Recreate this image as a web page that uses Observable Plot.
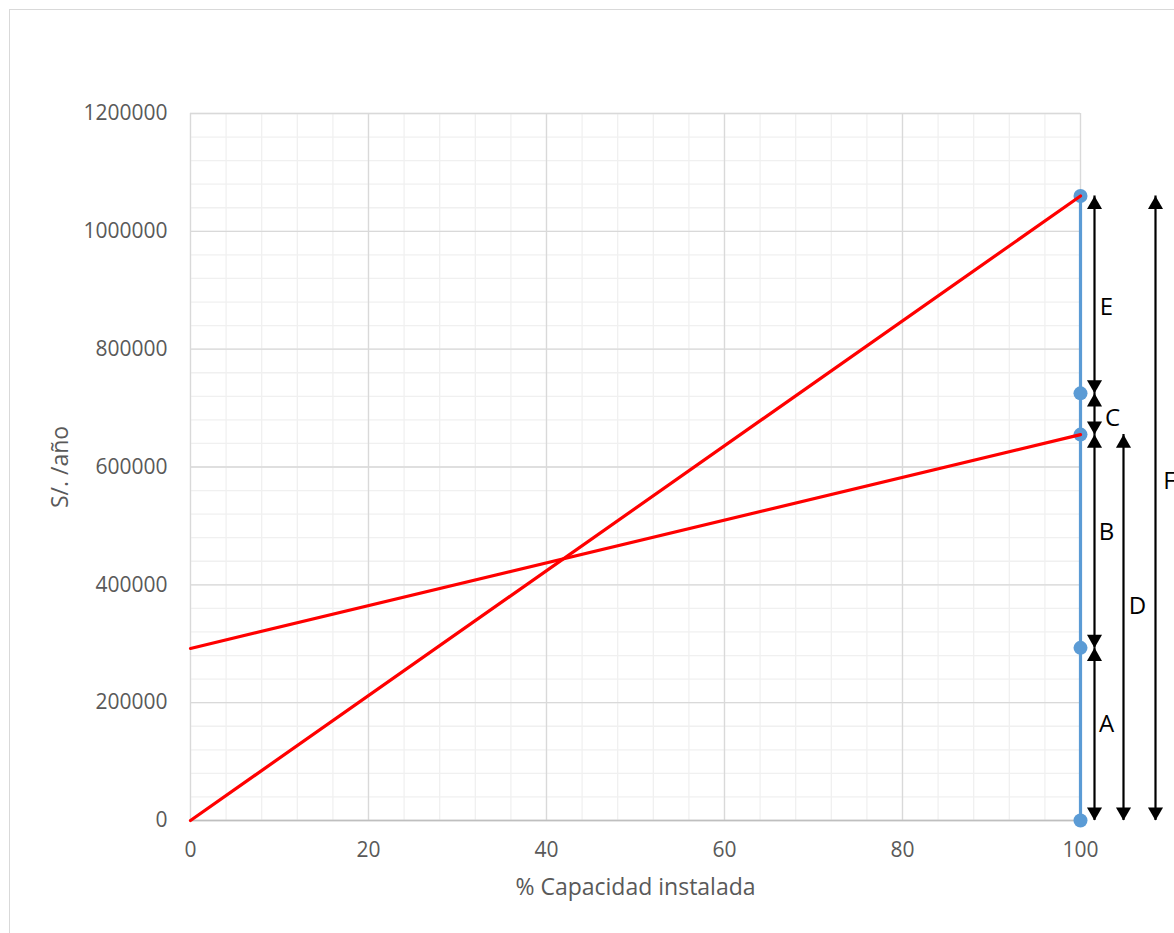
<!DOCTYPE html>
<html>
<head>
<meta charset="utf-8">
<script src="https://cdn.jsdelivr.net/npm/d3@7"></script>
<script src="https://cdn.jsdelivr.net/npm/@observablehq/plot@0.6"></script>
<style>
  html, body { margin: 0; padding: 0; background: #fff; overflow: hidden; }
  #wrap { position: relative; width: 1174px; height: 933px; }
  #frame { position: absolute; left: 9px; top: 9px; width: 1300px; height: 1100px; border: 1px solid #d9d9d9; box-sizing: border-box; }
  #chart { position: absolute; left: 0; top: 0; }
</style>
</head>
<body>
<div id="wrap"><div id="frame"></div><div id="chart"></div></div>
<script>
// % de capacidad instalada (extremos de las rectas)
const capacidad = [0, 100];
// Ingresos por ventas (S/. /año)
const ingresos = [0, 1060000];
// Costo total: costo fijo + costo variable (S/. /año)
const costoTotal = [292000, 655000];
// Valores marcados al 100 % de capacidad
const nivelesAl100 = [0, 293000, 655000, 725000, 1060000];
// Tramos acotados con flechas
const tramos = ["A", "B", "C", "D", "E", "F"];
const tramoDesde = [0, 293000, 655000, 0, 725000, 0];
const tramoHasta = [293000, 655000, 725000, 655000, 1060000, 1060000];
// Ejes
const ticksX = [0, 20, 40, 60, 80, 100];
const ticksY = [0, 200000, 400000, 600000, 800000, 1000000, 1200000];

const ingresosData = capacidad.map((c, i) => ({x: c, y: ingresos[i]}));
const costoData = capacidad.map((c, i) => ({x: c, y: costoTotal[i]}));
const puntos = nivelesAl100.map(v => ({x: 100, y: v}));

// Column (pixels right of the 100 % line) and label nudges for each dimension arrow
const columna = {A: 14, B: 14, C: 14, E: 14, D: 43, F: 75};
const etiquetaDx = {A: 26, B: 26, C: 32, E: 26, D: 57, F: 89};
const etiquetaDy = {A: -10, B: -9, C: 4, E: 13, D: -21, F: -27};
const flechas = tramos.map((t, i) => ({t, y1: tramoDesde[i], y2: tramoHasta[i]}));

const headR = 5.6;
const tipOff = headR * 1.555;

const marks = [
  // minor grid
  Plot.ruleX(d3.range(0, 101, 4), {stroke: "#f0f0f0", strokeWidth: 1.3}),
  Plot.ruleY(d3.range(0, 1200001, 40000), {stroke: "#f0f0f0", strokeWidth: 1.3}),
  // major grid
  Plot.ruleX(ticksX, {stroke: "#d9d9d9", strokeWidth: 1.3}),
  Plot.ruleY(ticksY, {stroke: "#d9d9d9", strokeWidth: 1.3}),
  Plot.ruleY([0], {stroke: "#bfbfbf", strokeWidth: 1.3}),
  Plot.axisX({ticks: ticksX, tickSize: 0, tickPadding: 22, label: null, fontSize: 21}),
  Plot.axisY({ticks: ticksY, tickSize: 0, tickPadding: 23, label: null, fontSize: 21, tickFormat: d3.format("d")}),
  Plot.text(["% Capacidad instalada"], {frameAnchor: "bottom", dy: 74, fill: "#595959", fontSize: 23}),
  Plot.text(["S/. /año"], {frameAnchor: "left", dx: -130, rotate: -90, textAnchor: "middle", fill: "#595959", fontSize: 23}),
  // vertical at 100 % with its points
  Plot.line(puntos, {x: "x", y: "y", stroke: "#5B9BD5", strokeWidth: 3.2}),
  Plot.dot(puntos, {x: "x", y: "y", r: 7, fill: "#5B9BD5"}),
  // revenue and total cost lines
  Plot.line(ingresosData, {x: "x", y: "y", stroke: "#ff0000", strokeWidth: 3.2}),
  Plot.line(costoData, {x: "x", y: "y", stroke: "#ff0000", strokeWidth: 3.2})
];

for (const f of flechas) {
  const dx = columna[f.t];
  marks.push(
    Plot.ruleX([f], {x: () => 100, y1: "y1", y2: "y2", dx, stroke: "#000", strokeWidth: 2.2}),
    Plot.dot([f], {x: () => 100, y: "y2", dx, dy: tipOff, symbol: "triangle", r: headR, fill: "#000"}),
    Plot.dot([f], {x: () => 100, y: "y1", dx, dy: -tipOff, symbol: "triangle", rotate: 180, r: headR, fill: "#000"}),
    Plot.text([f], {x: () => 100, y: d => (d.y1 + d.y2) / 2, text: "t", dx: etiquetaDx[f.t], dy: etiquetaDy[f.t], fill: "#000", fontSize: 24})
  );
}

const chart = Plot.plot({
  width: 1174,
  height: 933,
  marginLeft: 190,
  marginRight: 94,
  marginTop: 113,
  marginBottom: 113,
  x: {domain: [0, 100]},
  y: {domain: [0, 1200000]},
  style: {fontFamily: "'Open Sans', sans-serif", fontSize: "21px", color: "#595959", background: "transparent", overflow: "visible"},
  marks
});
document.getElementById("chart").appendChild(chart);
</script>
</body>
</html>
